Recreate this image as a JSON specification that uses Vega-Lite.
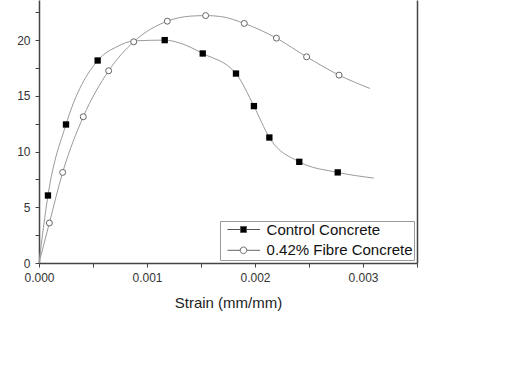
{
  "$schema": "https://vega.github.io/schema/vega-lite/v6.json",
  "width": 378,
  "height": 263,
  "autosize": {"type": "none"},
  "padding": {"left": 39, "top": 0, "right": 106, "bottom": 108},
  "background": "white",
  "config": {
    "font": "Liberation Sans",
    "view": {"stroke": null},
    "axis": {"grid": false, "domainColor": "#444", "domainWidth": 1.5, "tickColor": "#444", "tickWidth": 1, "tickSize": 4, "labelColor": "#333", "labelFontSize": 12, "titleColor": "#222", "labelFont": "Liberation Sans", "titleFont": "Liberation Sans", "labelFlush": false}
  },
  "datasets": {
    "curve": [
      {"series": "Control Concrete", "strain": 0, "stress": 0},
      {"series": "Control Concrete", "strain": 0.000083, "stress": 6.06},
      {"series": "Control Concrete", "strain": 0.00025, "stress": 12.43},
      {"series": "Control Concrete", "strain": 0.000543, "stress": 18.17},
      {"series": "Control Concrete", "strain": 0.00072, "stress": 19.4},
      {"series": "Control Concrete", "strain": 0.00088, "stress": 19.93},
      {"series": "Control Concrete", "strain": 0.001164, "stress": 20.0},
      {"series": "Control Concrete", "strain": 0.0013, "stress": 19.75},
      {"series": "Control Concrete", "strain": 0.001516, "stress": 18.8},
      {"series": "Control Concrete", "strain": 0.001824, "stress": 17.0},
      {"series": "Control Concrete", "strain": 0.00199, "stress": 14.08},
      {"series": "Control Concrete", "strain": 0.002133, "stress": 11.26},
      {"series": "Control Concrete", "strain": 0.00241, "stress": 9.08},
      {"series": "Control Concrete", "strain": 0.002766, "stress": 8.13},
      {"series": "Control Concrete", "strain": 0.0031, "stress": 7.62},
      {"series": "0.42% Fibre Concrete", "strain": 0, "stress": 0},
      {"series": "0.42% Fibre Concrete", "strain": 0.000096, "stress": 3.59},
      {"series": "0.42% Fibre Concrete", "strain": 0.000219, "stress": 8.13},
      {"series": "0.42% Fibre Concrete", "strain": 0.00041, "stress": 13.12},
      {"series": "0.42% Fibre Concrete", "strain": 0.000645, "stress": 17.25},
      {"series": "0.42% Fibre Concrete", "strain": 0.000877, "stress": 19.85},
      {"series": "0.42% Fibre Concrete", "strain": 0.001188, "stress": 21.7},
      {"series": "0.42% Fibre Concrete", "strain": 0.0014, "stress": 22.15},
      {"series": "0.42% Fibre Concrete", "strain": 0.001543, "stress": 22.2},
      {"series": "0.42% Fibre Concrete", "strain": 0.00168, "stress": 22.12},
      {"series": "0.42% Fibre Concrete", "strain": 0.001901, "stress": 21.5},
      {"series": "0.42% Fibre Concrete", "strain": 0.002198, "stress": 20.18},
      {"series": "0.42% Fibre Concrete", "strain": 0.002478, "stress": 18.5},
      {"series": "0.42% Fibre Concrete", "strain": 0.002778, "stress": 16.86},
      {"series": "0.42% Fibre Concrete", "strain": 0.003065, "stress": 15.66}
    ],
    "markers": [
      {"series": "Control Concrete", "strain": 0.000083, "stress": 6.06},
      {"series": "Control Concrete", "strain": 0.00025, "stress": 12.43},
      {"series": "Control Concrete", "strain": 0.000543, "stress": 18.17},
      {"series": "Control Concrete", "strain": 0.001164, "stress": 20.0},
      {"series": "Control Concrete", "strain": 0.001516, "stress": 18.8},
      {"series": "Control Concrete", "strain": 0.001824, "stress": 17.0},
      {"series": "Control Concrete", "strain": 0.00199, "stress": 14.08},
      {"series": "Control Concrete", "strain": 0.002133, "stress": 11.26},
      {"series": "Control Concrete", "strain": 0.00241, "stress": 9.08},
      {"series": "Control Concrete", "strain": 0.002766, "stress": 8.13},
      {"series": "0.42% Fibre Concrete", "strain": 0.000096, "stress": 3.59},
      {"series": "0.42% Fibre Concrete", "strain": 0.000219, "stress": 8.13},
      {"series": "0.42% Fibre Concrete", "strain": 0.00041, "stress": 13.12},
      {"series": "0.42% Fibre Concrete", "strain": 0.000645, "stress": 17.25},
      {"series": "0.42% Fibre Concrete", "strain": 0.000877, "stress": 19.85},
      {"series": "0.42% Fibre Concrete", "strain": 0.001188, "stress": 21.7},
      {"series": "0.42% Fibre Concrete", "strain": 0.001543, "stress": 22.2},
      {"series": "0.42% Fibre Concrete", "strain": 0.001901, "stress": 21.5},
      {"series": "0.42% Fibre Concrete", "strain": 0.002198, "stress": 20.18},
      {"series": "0.42% Fibre Concrete", "strain": 0.002478, "stress": 18.5},
      {"series": "0.42% Fibre Concrete", "strain": 0.002778, "stress": 16.86}
    ]
  },
  "resolve": {"axis": {"y": "independent"}},
  "layer": [
    {
      "data": {"name": "curve"},
      "mark": {"type": "line", "interpolate": "monotone", "color": "#9a9a9a", "strokeWidth": 1},
      "encoding": {
        "x": {"field": "strain", "type": "quantitative", "scale": {"domain": [0, 0.0035], "nice": false},
          "axis": {"title": "Strain (mm/mm)", "titleFontSize": 15, "titleFontWeight": "normal", "titlePadding": 12, "labelPadding": 5,
            "values": [0, 0.0005, 0.001, 0.0015, 0.002, 0.0025, 0.003, 0.0035], "format": ".3f",
            "labelExpr": "(round(datum.value*10000) % 10 == 0 && datum.value < 0.0034) ? datum.label : ''"}},
        "y": {"field": "stress", "type": "quantitative", "scale": {"domain": [0, 23.6], "nice": false, "zero": true},
          "axis": {"title": null, "labelPadding": 5, "values": [0, 2.5, 5, 7.5, 10, 12.5, 15, 17.5, 20, 22.5],
            "labelExpr": "datum.value % 5 == 0 ? datum.label : ''"}},
        "detail": {"field": "series"}
      }
    },
    {
      "data": {"name": "markers"},
      "transform": [{"filter": "datum.series == 'Control Concrete'"}],
      "mark": {"type": "square", "filled": true, "color": "black", "size": 40, "opacity": 1},
      "encoding": {
        "x": {"field": "strain", "type": "quantitative"},
        "y": {"field": "stress", "type": "quantitative", "axis": null}
      }
    },
    {
      "data": {"name": "markers"},
      "transform": [{"filter": "datum.series != 'Control Concrete'"}],
      "mark": {"type": "point", "shape": "circle", "filled": true, "fill": "white", "stroke": "#666", "strokeWidth": 1, "size": 36, "opacity": 1},
      "encoding": {
        "x": {"field": "strain", "type": "quantitative"},
        "y": {"field": "stress", "type": "quantitative", "axis": null}
      }
    },
    {
      "data": {"name": "markers"},
      "mark": {"type": "point", "opacity": 0, "strokeWidth": 1, "filled": true},
      "encoding": {
        "x": {"field": "strain", "type": "quantitative"},
        "y": {"field": "stress", "type": "quantitative", "axis": {"orient": "right", "title": null, "ticks": false, "labels": false, "domainColor": "#444", "domainWidth": 1.5}},
        "shape": {"field": "series", "type": "nominal",
          "scale": {"domain": ["Control Concrete", "0.42% Fibre Concrete"],
            "range": ["M-0.17,0H2M3,0H5.27M2,-0.5H3V0.5H2Z", "M-0.17,0H1.95M3.05,0H5.27M3.05,0A0.55,0.55,0,1,1,1.95,0A0.55,0.55,0,1,1,3.05,0Z"]},
          "legend": {"title": null, "orient": "bottom-right", "offset": 3.5, "labelFontSize": 15, "labelColor": "#111", "symbolSize": 144, "symbolOpacity": 1, "symbolStrokeWidth": 1, "strokeColor": "#999", "fillColor": "white", "padding": 1, "rowPadding": 4.8, "labelOffset": 30.6}},
        "fill": {"field": "series", "type": "nominal", "scale": {"domain": ["Control Concrete", "0.42% Fibre Concrete"], "range": ["black", "white"]}},
        "stroke": {"field": "series", "type": "nominal", "scale": {"domain": ["Control Concrete", "0.42% Fibre Concrete"], "range": ["#555", "#666"]}}
      }
    }
  ]
}
